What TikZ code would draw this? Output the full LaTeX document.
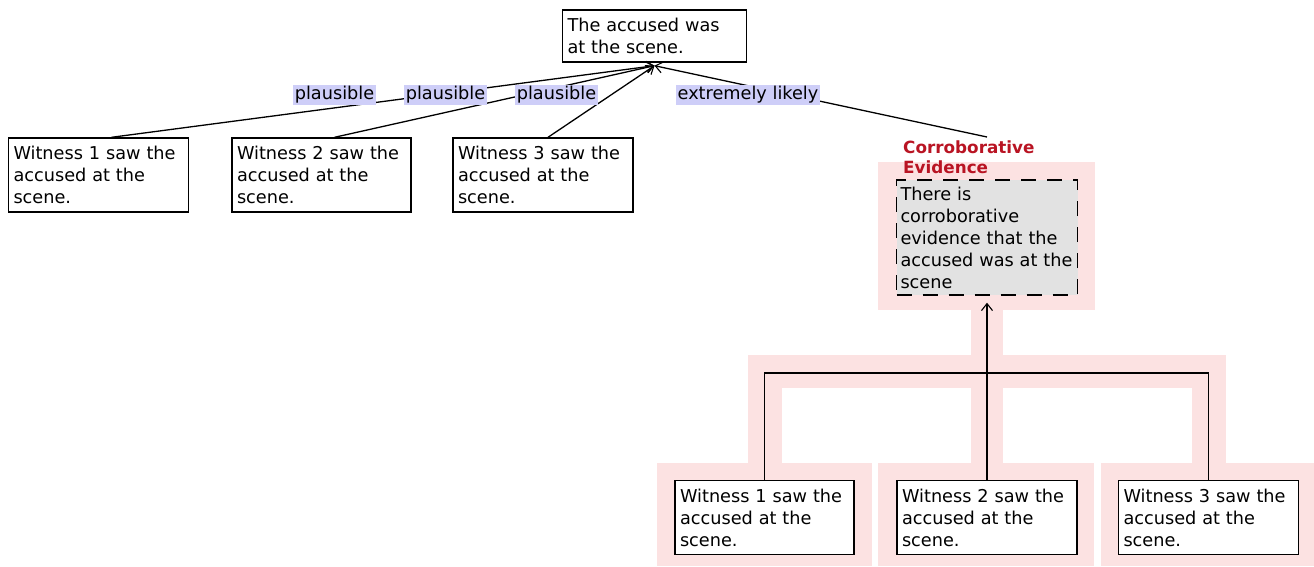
\documentclass[tikz,border=0pt]{standalone}
\usepackage{fontspec}
\setmainfont{DejaVu Sans}
\usetikzlibrary{arrows.meta,calc}
\definecolor{pinkbg}{RGB}{252,226,226}
\definecolor{labbg}{RGB}{206,206,248}
\definecolor{cegray}{RGB}{226,226,226}
\definecolor{cered}{RGB}{185,20,35}
\begin{document}
\begin{tikzpicture}[x=1pt,y=-1pt,
  txt/.style={font=\fontsize{17.7}{22}\selectfont},
  box/.style={txt, draw, line width=1.4pt, fill=white, align=left,
    inner xsep=5pt, inner ysep=0pt, text width=#1, minimum height=74pt},
  topbox/.style={box=174pt, minimum height=52pt},
  cebox/.style={txt, draw, line width=1.4pt, dash pattern=on 15pt off 11pt,
    fill=cegray, align=left, inner xsep=4pt, inner ysep=0pt,
    text width=173pt, minimum height=115pt},
  lab/.style={txt, fill=labbg, inner xsep=2pt, inner ysep=1.5pt},
  cetitle/.style={font=\fontsize{16.8}{20}\selectfont\bfseries, text=cered,
    align=left, inner sep=0pt, anchor=north west},
  conn/.style={line width=1.3pt},
  edge/.style={conn, -{Straight Barb[length=7pt,width=11pt,line width=1.1pt]}},
  pinkfill/.style={fill=pinkbg}
]
\useasboundingbox (0,0) rectangle (1314,566);

% pink highlight of the corroborative group
\fill[pinkfill] (878,162) rectangle (1095,310);
\fill[pinkfill] (971,310) rectangle (1003,355);
\fill[pinkfill] (748,355) rectangle (1226,388);
\fill[pinkfill] (748,388) rectangle (782,463);
\fill[pinkfill] (971,388) rectangle (1003,463);
\fill[pinkfill] (1192,388) rectangle (1226,463);
\fill[pinkfill] (657,463) rectangle (872,566);
\fill[pinkfill] (878,463) rectangle (1094,566);
\fill[pinkfill] (1101,463) rectangle (1314,566);

% nodes
\node[topbox] (top) at (654.5,36) {The accused was\\at the scene.};
\node[box=170pt] (w1) at (98.5,175) {Witness 1 saw the\\accused at the\\scene.};
\node[box=169pt] (w2) at (321.5,175) {Witness 2 saw the\\accused at the\\scene.};
\node[box=170pt] (w3) at (543,175) {Witness 3 saw the\\accused at the\\scene.};

\node[cebox] (ce) at (987,237.5) {There is\\corroborative\\evidence that the\\accused was at the\\scene};
\node[cetitle] (cet) at (903,141) {Corroborative\\Evidence};

\node[box=169pt] (b1) at (764.5,517.5) {Witness 1 saw the\\accused at the\\scene.};
\node[box=170pt] (b2) at (987,517.5) {Witness 2 saw the\\accused at the\\scene.};
\node[box=170pt] (b3) at (1208.5,517.5) {Witness 3 saw the\\accused at the\\scene.};

% connectors to the claim
\draw[edge] ([xshift=13pt]w1.north) -- ([yshift=-3pt]top.south);
\draw[edge] ([xshift=13pt]w2.north) -- ([yshift=-3pt]top.south);
\draw[edge] ([xshift=5pt]w3.north) -- ([yshift=-3pt]top.south);
\draw[edge] ([yshift=4pt]ce.north |- cet.north) -- ([yshift=-3pt]top.south);

% labels
\node[lab] (l1) at (334.5,95) {plausible};
\node[lab] (l2) at (445.5,95) {plausible};
\node[lab] (l3) at (556.5,95) {plausible};
\node[lab] (l4) at (748,95) {extremely likely};

% linked argument into the corroborative evidence
\coordinate (j) at (987,373);
\draw[conn] (b1.north) |- (j) -| (b3.north);
\draw[edge] (b2.north) -- ([yshift=-7pt]ce.south);
\end{tikzpicture}
\end{document}
